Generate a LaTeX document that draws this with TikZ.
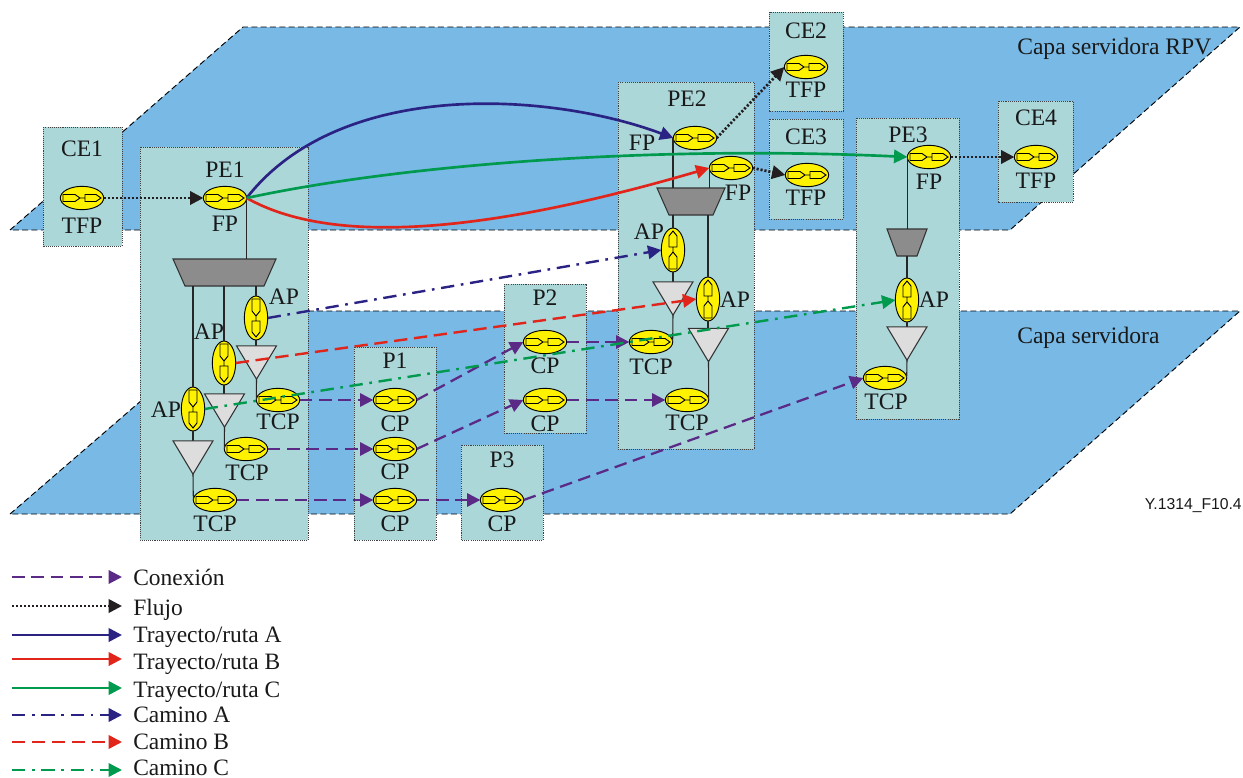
\documentclass[tikz,border=0pt]{standalone}
\usepackage{fontspec}
\setmainfont{Liberation Serif}
\setsansfont{Liberation Sans}
\usetikzlibrary{arrows.meta,shapes.geometric}
\definecolor{plane}{HTML}{78B9E5}
\definecolor{boxc}{HTML}{ABD7D9}
\definecolor{ylw}{HTML}{FFF200}
\definecolor{purp}{HTML}{5B2A86}
\definecolor{navy}{HTML}{2B2383}
\definecolor{redc}{HTML}{E1251B}
\definecolor{grn}{HTML}{009A4E}
\definecolor{flowc}{HTML}{231F20}
\definecolor{trapc}{HTML}{8C8C8C}
\definecolor{tric}{HTML}{DDDDDD}
\newcommand{\tpglyphH}{%
  \draw[line width=.7pt,shift={(path picture bounding box.center)}]
    (-19,-3.5)--(-7,-3.5)--(-2,0)--(-7,3.5)--(-19,3.5)--cycle
    (-2,0)--(3,0)
    (3,-3.5)--(14,-3.5)--(19,0)--(14,3.5)--(3,3.5)--cycle;}
\newcommand{\tpglyphD}{%
  \draw[line width=.7pt,shift={(path picture bounding box.center)}]
    (-4,-19)--(-4,-7)--(0,-2)--(4,-7)--(4,-19)--cycle
    (0,-2)--(0,3)
    (-4,3)--(-4,14)--(0,19)--(4,14)--(4,3)--cycle;}
\newcommand{\tpglyphU}{%
  \draw[line width=.7pt,shift={(path picture bounding box.center)}]
    (-4,19)--(-4,7)--(0,2)--(4,7)--(4,19)--cycle
    (0,2)--(0,-3)
    (-4,-3)--(-4,-14)--(0,-19)--(4,-14)--(4,-3)--cycle;}
% name, centre x, centre y, width, height, inset (in picture units)
\newcommand{\trapnode}[6]{%
  \node[shapebox,minimum width=#4*0.75pt,minimum height=#5*0.75pt] (#1) at (#2,#3) {};
  \draw[trapS] (#1.north west) -- (#1.north east) -- ([shift={(-#6,0)}]#1.south east) -- ([shift={(#6,0)}]#1.south west) -- cycle;}
\newcommand{\trinode}[3]{%
  \node[shapebox,minimum width=30pt,minimum height=25pt] (#1) at (#2,#3) {};}
\newcommand{\tridraw}[1]{\draw[triS] (#1.north west) -- (#1.north east) -- (#1.south) -- cycle;}
\tikzset{
  planeS/.style={fill=plane,draw=black,line width=.7pt,dash pattern=on 4.5pt off 2.5pt},
  boxS/.style={fill=boxc,draw=black!75,line width=.7pt,dash pattern=on .8pt off .8pt},
  tpbase/.style={ellipse,draw=black,line width=.7pt,fill=ylw,inner sep=0pt,outer sep=0pt},
  tph/.style={tpbase,minimum width=32.5pt,minimum height=17.5pt,path picture={\tpglyphH}},
  apd/.style={tpbase,minimum width=17.5pt,minimum height=33pt,path picture={\tpglyphD}},
  apu/.style={tpbase,minimum width=17.5pt,minimum height=33pt,path picture={\tpglyphU}},
  lbl/.style={font=\fontsize{17.7}{20}\selectfont,inner sep=0pt,text=black!90},
  leg/.style={font=\fontsize{17.6}{20}\selectfont,inner sep=0pt,anchor=base west,text=black!90},
  wire/.style={draw=black!85,line width=.8pt},
  shapebox/.style={rectangle,inner sep=0pt,outer sep=0pt},
  trapS/.style={draw=black!80,line width=.8pt,fill=trapc,line join=miter},
  triS/.style={draw=black!80,line width=.8pt,fill=tric,line join=miter},
  tip/.style={-{Triangle[length=10pt,width=10pt]}},
  conx/.style={tip,draw=purp,line width=1.7pt,dash pattern=on 9.5pt off 5pt},
  flowS/.style={tip,draw=flowc,line width=2pt,dash pattern=on 1.6pt off 1.4pt},
  rutaA/.style={tip,draw=navy,line width=2pt},
  rutaB/.style={tip,draw=redc,line width=2pt},
  rutaC/.style={tip,draw=grn,line width=2pt},
  camA/.style={tip,draw=navy,line width=1.8pt,dash pattern=on 10pt off 5pt on 2pt off 5pt},
  camB/.style={tip,draw=redc,line width=1.8pt,dash pattern=on 10pt off 5pt},
  camC/.style={tip,draw=grn,line width=1.8pt,dash pattern=on 10pt off 5pt on 2pt off 5pt},
}
\begin{document}
\begin{tikzpicture}[x=0.75pt,y=-0.75pt]
\useasboundingbox (0,0) rectangle (1243,778);
% planes
\draw[planeS] (10,230)--(243,27)--(1240,27)--(1010,230)--cycle;
\draw[planeS] (10,514)--(245,311)--(1240,311)--(1010,514)--cycle;
% boxes
\draw[boxS] (43,127) rectangle (122,246);
\draw[boxS] (140,147) rectangle (308,540);
\draw[boxS] (354,347) rectangle (436,540);
\draw[boxS] (504,284) rectangle (586,433);
\draw[boxS] (461,445) rectangle (543,540);
\draw[boxS] (618,82) rectangle (754,449);
\draw[boxS] (769,12) rectangle (843,111);
\draw[boxS] (769,119) rectangle (843,219);
\draw[boxS] (856,118) rectangle (959,419);
\draw[boxS] (998,101) rectangle (1073,202);
% layer labels
\node[lbl,anchor=west] (capaRPV) at (1017,49) {Capa servidora RPV};
\node[lbl,anchor=west] (capa) at (1017,338) {Capa servidora};
\node[anchor=east,inner sep=0pt,font=\sffamily\fontsize{11.8}{14}\selectfont,text=black!90] (ref) at (1242,506) {Y.1314\_F10.4};
% trapezoids and triangles
\trapnode{pe1trap}{224.5}{272.5}{103}{27}{12}
\trapnode{pe2trap}{691}{201.5}{68}{27}{12}
\trapnode{pe3trap}{907}{242.5}{40}{27}{10}
\trinode{pe1tria}{256.5}{362.5}
\trinode{pe1trib}{224.5}{410.5}
\trinode{pe1tric}{193}{457.5}
\trinode{pe2tria}{673}{298.5}
\trinode{pe2trib}{708.5}{345}
\trinode{pe3tri}{907}{343.5}
% termination points
\node[tph] (ce1tfp) at (82,198) {};
\node[tph] (ce2tfp) at (806,67) {};
\node[tph] (ce3tfp) at (807,175) {};
\node[tph] (ce4tfp) at (1036,157) {};
\node[tph] (pe1fp) at (225,198) {};
\node[tph] (pe1tcpa) at (278,400) {};
\node[tph] (pe1tcpb) at (246,449) {};
\node[tph] (pe1tcpc) at (215,500) {};
\node[apd] (pe1apa) at (256,318) {};
\node[apd] (pe1apb) at (224,363) {};
\node[apd] (pe1apc) at (193,409) {};
\node[tph] (p1a) at (395,400) {};
\node[tph] (p1b) at (395,449) {};
\node[tph] (p1c) at (395,500) {};
\node[tph] (p2a) at (545,342) {};
\node[tph] (p2b) at (545,400) {};
\node[tph] (p3a) at (502,500) {};
\node[tph] (pe2fpa) at (695,138) {};
\node[tph] (pe2fpb) at (731,168) {};
\node[apu] (pe2apa) at (673,250) {};
\node[apu] (pe2apb) at (708,299) {};
\node[tph] (pe2tcpa) at (651,342) {};
\node[tph] (pe2tcpb) at (687,400) {};
\node[tph] (pe3fp) at (929,157) {};
\node[apu] (pe3ap) at (907,300) {};
\node[tph] (pe3tcp) at (885,378) {};
% wires
\draw[wire] (pe1fp.east) -- (pe1fp.east |- pe1trap.north);
\draw[wire] (pe1trap.south -| pe1apa.north) -- (pe1apa.north);
\draw[wire] (pe1trap.south -| pe1apb.north) -- (pe1apb.north);
\draw[wire] (pe1trap.south -| pe1apc.north) -- (pe1apc.north);
\draw[wire] (pe1apa.south) -- (pe1tria.north -| pe1apa.south);
\draw[wire] (pe1apb.south) -- (pe1trib.north -| pe1apb.south);
\draw[wire] (pe1apc.south) -- (pe1tric.north -| pe1apc.south);
\draw[wire] (pe1tria.south) -- (pe1tcpa.west);
\draw[wire] (pe1trib.south) -- (pe1tcpb.west);
\draw[wire] (pe1tric.south) -- (pe1tcpc.west);
\draw[wire] (pe2fpa.west -| pe2apa.north) -- (pe2trap.north -| pe2apa.north);
\draw[wire] (pe2fpb.west) -- (pe2trap.north -| pe2fpb.west);
\draw[wire] (pe2trap.south -| pe2apa.north) -- (pe2apa.north);
\draw[wire] (pe2trap.south -| pe2apb.north) -- (pe2apb.north);
\draw[wire] (pe2apa.south) -- (pe2tria.north -| pe2apa.south);
\draw[wire] (pe2apb.south) -- (pe2trib.north -| pe2apb.south);
\draw[wire] (pe2tria.south) -- (pe2tcpa.east);
\draw[wire] (pe2trib.south) -- (pe2tcpb.east);
\draw[wire] (pe3fp.west) -- (pe3trap.north -| pe3fp.west);
\draw[wire] (pe3trap.south) -- (pe3ap.north);
\draw[wire] (pe3ap.south) -- (pe3tri.north);
\draw[wire] (pe3tri.south) -- (pe3tcp.east);
% triangles
\tridraw{pe1tria}\tridraw{pe1trib}\tridraw{pe1tric}
\tridraw{pe2tria}\tridraw{pe2trib}\tridraw{pe3tri}
% connexions
\draw[conx] (pe1tcpa.east) -- (p1a.west);
\draw[conx] (pe1tcpb.east) -- (p1b.west);
\draw[conx] (pe1tcpc.east) -- (p1c.west);
\draw[conx] (p1a.east) -- (p2a.west);
\draw[conx] (p1b.east) -- (p2b.west);
\draw[conx] (p1c.east) -- (p3a.west);
\draw[conx] (p2a.east) -- (pe2tcpa.west);
\draw[conx] (p2b.east) -- (pe2tcpb.west);
\draw[conx] (p3a.east) -- (pe3tcp.west);
% flows
\draw[flowS] (ce1tfp.east) -- (pe1fp.west);
\draw[flowS] (pe2fpa.east) -- (ce2tfp.west);
\draw[flowS] (pe2fpb.east) -- (ce3tfp.west);
\draw[flowS] (pe3fp.east) -- (ce4tfp.west);
% routes
\draw[rutaA] (pe1fp.east) .. controls (340,78) and (550,92) .. (pe2fpa.west);
\draw[rutaB] (pe1fp.east) .. controls (330,245) and (480,235) .. (pe2fpb.west);
\draw[rutaC] (pe1fp.east) .. controls (400,165) and (650,145) .. (pe3fp.west);
% paths
\draw[camA] (pe1apa.east) -- (pe2apa.west);
\draw[camB] (pe1apb.east) -- (pe2apb.west);
\draw[camC] (pe1apc.east) -- (pe3ap.west);
% labels
\node[lbl] (tce1) at (82,149) {CE1};
\node[lbl] (tce1b) at (82,226) {TFP};
\node[lbl] (tpe1) at (225,170) {PE1};
\node[lbl] (tpe1a) at (225,224) {FP};
\node[lbl] (tap1) at (284,297) {AP};
\node[lbl] (tap2) at (209,332) {AP};
\node[lbl] (tap3) at (166,410) {AP};
\node[lbl] (ttcp1) at (278,422) {TCP};
\node[lbl] (ttcp2) at (247,473) {TCP};
\node[lbl] (ttcp3) at (215,524) {TCP};
\node[lbl] (tp1) at (395,361) {P1};
\node[lbl] (tp1a) at (395,424) {CP};
\node[lbl] (tp1b) at (395,472) {CP};
\node[lbl] (tp1c) at (395,524) {CP};
\node[lbl] (tp2) at (545,298) {P2};
\node[lbl] (tp2a) at (545,366) {CP};
\node[lbl] (tp2b) at (545,424) {CP};
\node[lbl] (tp3) at (502,460) {P3};
\node[lbl] (tp3a) at (502,524) {CP};
\node[lbl] (tpe2) at (687,99) {PE2};
\node[lbl] (tfpa) at (642,143) {FP};
\node[lbl] (tfpb) at (738,193) {FP};
\node[lbl] (tap4) at (649,232) {AP};
\node[lbl] (tap5) at (735,300) {AP};
\node[lbl] (ttcp4) at (651,367) {TCP};
\node[lbl] (ttcp5) at (687,423) {TCP};
\node[lbl] (tce2) at (806,31) {CE2};
\node[lbl] (tce2b) at (806,90) {TFP};
\node[lbl] (tce3) at (806,137) {CE3};
\node[lbl] (tce3b) at (806,198) {TFP};
\node[lbl] (tpe3) at (908,135) {PE3};
\node[lbl] (tfpc) at (929,182) {FP};
\node[lbl] (tap6) at (934,300) {AP};
\node[lbl] (ttcp6) at (886,402) {TCP};
\node[lbl] (tce4) at (1036,118) {CE4};
\node[lbl] (tce4b) at (1036,181) {TFP};
% legend
\node[leg] (l1) at (133,585) {Conexión};
\node[leg] (l2) at (133,615) {Flujo};
\node[leg] (l3) at (133,642) {Trayecto/ruta A};
\node[leg] (l4) at (133,669) {Trayecto/ruta B};
\node[leg] (l5) at (133,697) {Trayecto/ruta C};
\node[leg] (l6) at (133,722) {Camino A};
\node[leg] (l7) at (133,749) {Camino B};
\node[leg] (l8) at (133,775) {Camino C};
\coordinate (s1) at (12,577); \coordinate (s2) at (12,606); \coordinate (s3) at (12,635); \coordinate (s4) at (12,659);
\coordinate (s5) at (12,688); \coordinate (s6) at (12,715); \coordinate (s7) at (12,742); \coordinate (s8) at (12,770);
\coordinate (e) at (122,0);
\draw[conx] (s1) -- (s1 -| e);
\draw[flowS] (s2) -- (s2 -| e);
\draw[rutaA] (s3) -- (s3 -| e);
\draw[rutaB] (s4) -- (s4 -| e);
\draw[rutaC] (s5) -- (s5 -| e);
\draw[camA] (s6) -- (s6 -| e);
\draw[camB] (s7) -- (s7 -| e);
\draw[camC] (s8) -- (s8 -| e);
\end{tikzpicture}
\end{document}
